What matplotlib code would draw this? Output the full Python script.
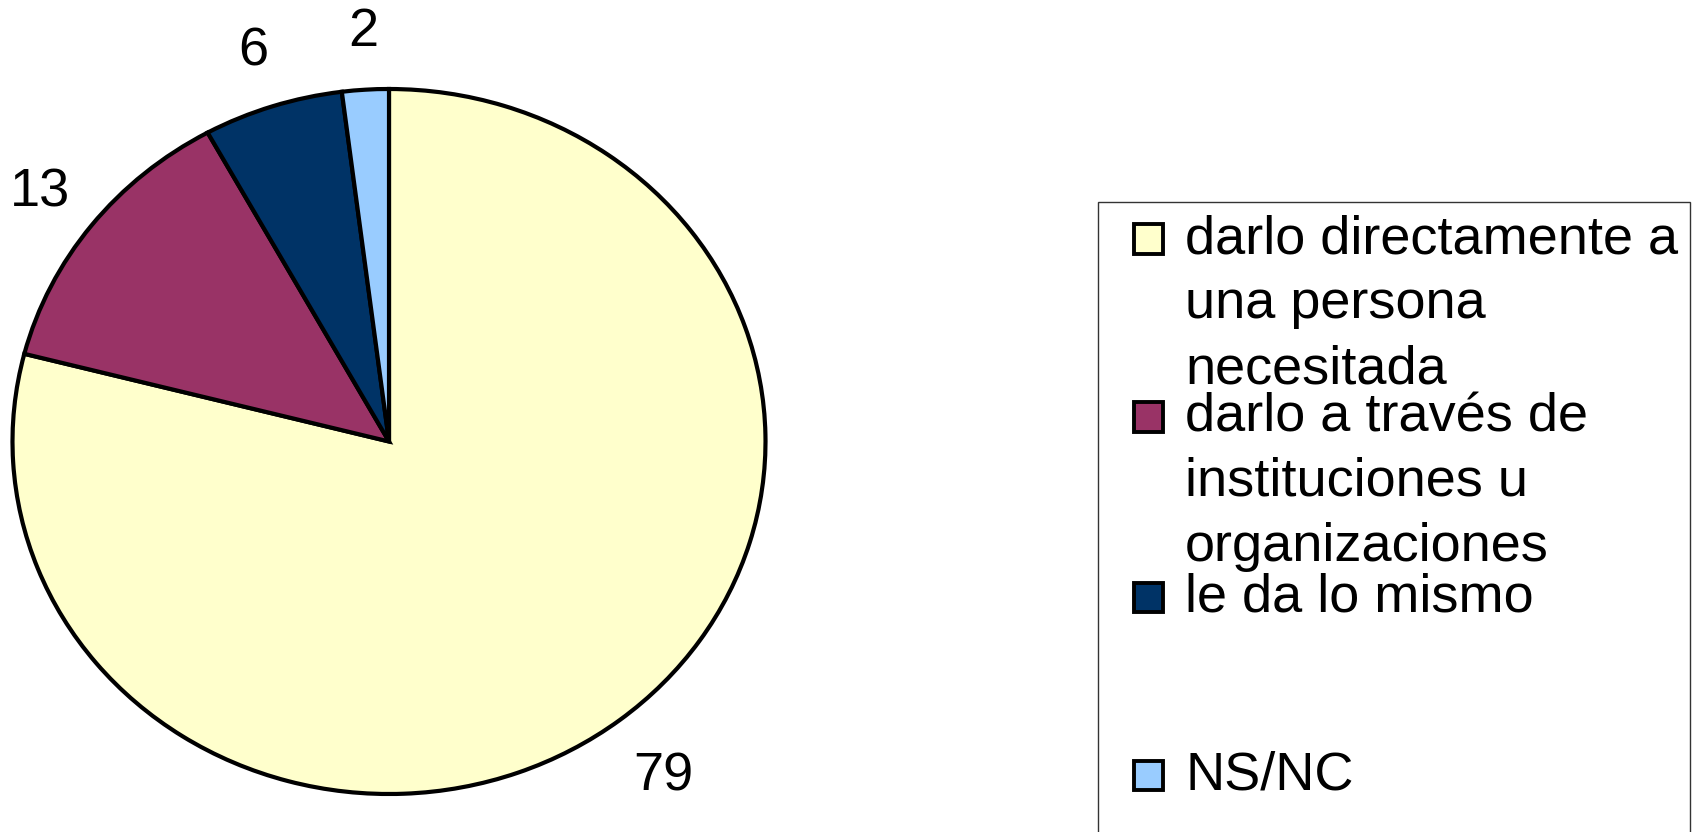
import matplotlib
matplotlib.use("Agg")
import matplotlib.pyplot as plt
from matplotlib.patches import Rectangle
from matplotlib.transforms import offset_copy

categories = ["darlo directamente a\nuna persona\nnecesitada",
              "darlo a través de\ninstituciones u\norganizaciones",
              "le da lo mismo",
              "NS/NC"]
values = [79, 13, 6, 2]
colors = ["#FFFFCC", "#993366", "#003366", "#99CCFF"]

W, H = 1692, 832
fig = plt.figure(figsize=(W / 100, H / 100), dpi=100)
plt.rcParams['font.family'] = ['Liberation Sans', 'DejaVu Sans']
FS = 39

# pie axes spans the ellipse bounds (pixels)
cx, cy, rx, ry = 389, 441.5, 376.5, 352.5
ax = fig.add_axes([(cx - rx) / W, (H - cy - ry) / H, 2 * rx / W, 2 * ry / H])
wedges, texts, autotexts = ax.pie(
    values, colors=colors, startangle=90, counterclock=False,
    wedgeprops=dict(edgecolor="black", linewidth=3.0),
    autopct=lambda p: f"{p * sum(values) / 100:.0f}", pctdistance=1.18,
    textprops=dict(fontsize=FS, color="black"))
ax.set_aspect('auto')
ax.set_xlim(-1, 1)
ax.set_ylim(-1, 1)
for w in wedges:
    w.set_clip_on(False)
for t in autotexts:
    t.set_clip_on(False)
    t.set_transform(offset_copy(ax.transData, fig=fig, x=2, y=-6, units='dots'))

# legend (manual, frame runs off the bottom like the original)
def fx(px):
    return px / W

def fy(py):
    return 1 - py / H

fig.patches.append(Rectangle((fx(1098), fy(880)), fx(1690) - fx(1098), fy(201.5) - fy(880),
                             transform=fig.transFigure, facecolor="white",
                             edgecolor="#333333", linewidth=1.0, zorder=0))
marker_centers = [239, 417, 597, 775]
line_step = 65
for lab, col, mc in zip(categories, colors, marker_centers):
    s = 29
    fig.patches.append(Rectangle((fx(1148.5 - s / 2), fy(mc + s / 2)), s / W, s / H,
                                 transform=fig.transFigure, facecolor=col,
                                 edgecolor="black", linewidth=2.8, zorder=2))
    for i, line in enumerate(lab.split("\n")):
        fig.text(fx(1185), fy(mc + 14 + i * line_step), line, fontsize=FS,
                 ha="left", va="baseline")

fig.savefig("out.png", dpi=100)
